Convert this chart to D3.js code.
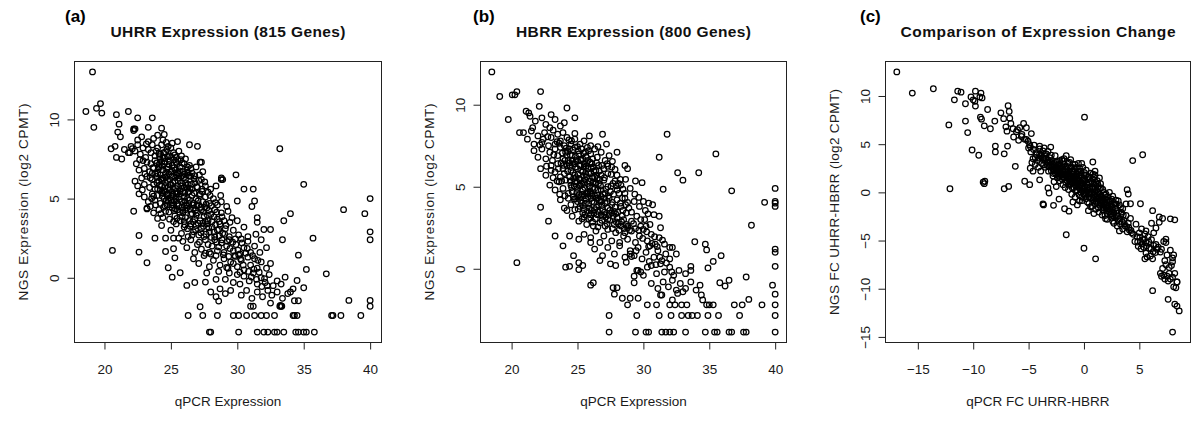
<!DOCTYPE html>
<html><head><meta charset="utf-8">
<script src="https://cdn.jsdelivr.net/npm/d3@7"></script>
<style>body{margin:0;background:#fff}svg{display:block}</style>
</head><body>
<svg id="chart" width="1200" height="426"></svg>
<script>
const panelLetters = ["(a)", "(b)", "(c)"];
const panelTitles = ["UHRR Expression (815 Genes)", "HBRR Expression (800 Genes)", "Comparison of Expression Change"];
const xAxisTitles = ["qPCR Expression", "qPCR Expression", "qPCR FC UHRR-HBRR"];
const yAxisTitles = ["NGS Expression (log2 CPMT)", "NGS Expression (log2 CPMT)", "NGS FC UHRR-HBRR (log2 CPMT)"];
const xTicksAB = [20, 25, 30, 35, 40];
const yTicksAB = [0, 5, 10];
const xTicksC = [-15, -10, -5, 0, 5];
const yTicksC = [-15, -10, -5, 0, 5, 10];

// Panel (a): UHRR, [qPCR, NGS]
const uhrrPoints = [
[19.1,13.0],[18.6,10.5],[19.2,9.5],[19.4,10.7],[19.7,11.0],[19.8,10.4],[20.9,10.3],[21.1,9.7],[21.0,9.2],[21.2,8.9],
[21.8,10.5],[22.5,10.1],[23.6,10.1],[23.3,9.5],[24.3,9.45],[24.5,9.05],[20.5,8.15],[20.8,8.3],[20.9,7.6],[21.3,7.5],
[21.9,7.9],[22.1,8.15],[22.2,9.4],[25.5,8.6],[26.4,8.4],[27.0,8.3],[27.3,7.3],[28.8,6.2],[29.9,6.5],[30.5,5.6],
[31.2,5.6],[31.3,4.85],[31.1,4.5],[30.0,4.85],[33.2,8.15],[35.0,5.9],[40.0,5.0],[39.6,4.05],[38.0,4.3],[34.0,4.05],
[33.5,3.6],[40.0,2.9],[40.0,2.4],[35.7,2.5],[33.4,2.4],[31.5,3.8],[31.5,3.5],[32.0,3.05],[32.5,3.05],[31.4,2.75],
[31.8,2.4],[32.2,1.9],[34.6,1.43],[35.2,0.53],[36.7,0.25],[33.6,0.04],[34.5,-0.17],[35.0,-0.63],[34.0,-0.9],[38.4,-1.43],
[40.0,-1.43],[40.0,-1.8],
[26.3,-2.38],[27.4,-2.38],[28.5,-2.38],[29.7,-2.38],[30.1,-2.38],[30.7,-2.38],[31.3,-2.38],[31.8,-2.38],[32.2,-2.38],[32.8,-2.38],
[34.2,-2.38],[34.3,-2.38],[34.5,-2.38],[37.1,-2.38],[37.2,-2.38],[37.8,-2.38],[39.3,-2.38],
[27.9,-3.43],[28.0,-3.43],[30.1,-3.43],[31.5,-3.43],[32.0,-3.43],[32.3,-3.43],[32.8,-3.43],[33.0,-3.43],[33.5,-3.43],[34.4,-3.43],
[34.6,-3.43],[35.0,-3.43],[35.2,-3.43],[35.8,-3.43],
[27.2,-1.83],[28.6,-1.47],[26.8,-0.3],[27.6,-0.27],[26.2,-0.48],[25.1,0.04],[24.8,0.63],[25.7,0.32],[23.2,0.95],[20.6,1.73],
[22.6,1.62],[22.6,2.67],[23.8,2.5],[22.2,4.2],[23.2,4.35],[24.6,1.66],[25.2,1.83],[25.3,1.26],
[22.2,9.3],[22.3,9.4],[22.5,8.7],[22.8,8.9],[23.3,8.6],[23.7,8.8],[24.0,9.0],[24.4,8.7],[24.8,8.3],[25.1,8.5],
[21.5,8.1],[21.8,7.9],[22.0,8.3],[22.3,8.0],[22.5,8.4],[22.7,7.8],[22.9,8.2],[23.1,7.6],[23.3,8.1],[23.5,7.9],
[23.6,8.4],[23.8,7.7],[24.0,8.2],[24.2,7.8],[24.3,8.4],[24.5,7.6],[24.7,8.1],[24.9,7.7],[25.0,8.2],[25.2,7.9],
[25.4,7.6],[25.6,8.0],[25.8,7.7],[26.1,7.5],[24.6,7.95],[23.9,8.0],[24.4,7.55],
[22.4,7.2],[22.6,6.8],[22.9,7.4],[23.0,6.9],[23.2,7.3],[23.4,6.7],[23.5,7.2],[23.7,6.9],[23.8,7.4],[24.0,6.6],
[24.1,7.1],[24.2,7.5],[24.4,6.8],[24.5,7.2],[24.6,6.6],[24.8,7.0],[24.9,7.4],[25.0,6.7],[25.1,7.1],[25.3,6.8],
[25.4,7.3],[25.5,6.6],[25.7,7.0],[25.9,6.7],[26.0,7.2],[26.2,6.8],[26.4,7.1],[26.6,6.6],[26.9,7.0],[27.2,7.3],
[27.4,6.7],[24.3,7.3],[25.2,7.45],[24.7,6.85],[23.6,6.6],
[22.3,6.1],[22.5,5.8],[22.8,6.3],[23.0,5.9],[23.2,6.4],[23.4,5.7],[23.6,6.2],[23.7,5.9],[23.9,6.4],[24.0,5.6],
[24.1,6.1],[24.3,5.8],[24.4,6.3],[24.5,5.5],[24.6,6.0],[24.7,6.4],[24.8,5.7],[24.9,6.2],[25.0,5.9],[25.1,6.4],
[25.2,5.6],[25.3,6.1],[25.5,5.8],[25.6,6.3],[25.7,5.5],[25.8,6.0],[26.0,5.7],[26.1,6.2],[26.3,5.9],[26.5,6.4],
[26.6,5.6],[26.8,6.0],[27.0,5.7],[27.3,6.2],[27.6,5.8],[28.0,5.6],[28.4,5.8],[28.8,6.3],[28.9,6.2],[24.2,6.5],
[25.4,6.5],[24.9,5.55],[23.8,5.6],
[22.6,5.3],[23.0,5.1],[23.3,4.8],[23.6,5.3],[23.8,4.9],[24.0,5.2],[24.2,4.7],[24.3,5.4],[24.5,5.0],[24.7,4.6],
[24.8,5.3],[25.0,4.9],[25.1,5.4],[25.2,4.6],[25.4,5.1],[25.5,4.7],[25.7,5.3],[25.8,4.8],[26.0,5.1],[26.1,4.6],
[26.3,5.4],[26.4,4.9],[26.6,5.2],[26.7,4.7],[26.9,5.0],[27.1,4.6],[27.2,5.3],[27.4,4.8],[27.6,5.1],[27.9,4.7],
[28.2,5.0],[28.5,4.6],[28.8,4.8],[29.2,4.5],[25.9,5.45],[24.6,5.45],[26.2,4.55],[27.8,5.4],
[23.2,4.4],[23.7,4.1],[24.1,4.3],[24.4,3.8],[24.6,4.2],[24.9,3.7],[25.1,4.4],[25.3,3.9],[25.5,4.3],[25.7,3.6],
[25.9,4.1],[26.1,3.8],[26.2,4.4],[26.4,3.6],[26.5,4.0],[26.7,4.4],[26.8,3.7],[27.0,4.1],[27.2,3.6],[27.3,4.3],
[27.5,3.9],[27.7,4.4],[27.8,3.6],[28.0,4.0],[28.3,4.3],[28.5,3.7],[28.8,4.1],[29.0,3.6],[29.3,4.2],[29.6,3.8],
[30.0,3.6],[26.0,3.55],[25.2,3.55],[27.6,3.55],[24.0,3.75],
[24.3,3.3],[25.0,3.0],[25.4,3.4],[25.8,2.8],[26.0,3.2],[26.3,2.6],[26.5,3.4],[26.7,2.9],[26.9,3.3],[27.1,2.7],
[27.3,3.1],[27.5,2.6],[27.7,3.4],[27.9,2.9],[28.1,3.2],[28.3,2.6],[28.5,3.0],[28.7,3.4],[28.9,2.8],[29.1,3.1],
[29.4,2.6],[29.7,3.0],[30.1,2.7],[30.5,3.2],[30.8,2.6],[24.6,2.5],[25.2,2.5],[25.6,2.5],
[25.9,2.3],[26.2,1.9],[26.5,2.4],[26.8,1.6],[27.0,2.1],[27.3,1.8],[27.6,2.4],[27.9,1.6],[28.1,2.0],[28.3,2.4],
[28.5,1.7],[28.8,2.2],[29.0,1.6],[29.2,2.0],[29.4,2.4],[29.7,1.7],[29.9,2.1],[30.2,1.5],[30.5,1.9],[30.8,2.3],
[31.0,1.6],[31.3,2.0],[31.7,1.6],[28.0,1.5],[27.6,1.55],[30.3,2.45],
[26.7,1.2],[27.1,0.9],[27.5,1.4],[27.9,0.7],[28.2,1.1],[28.4,1.4],[28.7,0.8],[29.0,1.2],[29.3,0.6],[29.5,1.0],
[29.8,1.4],[30.0,0.7],[30.3,1.1],[30.5,0.5],[30.8,1.3],[31.0,0.8],[31.3,1.2],[31.5,0.6],[31.8,1.0],[32.2,0.6],
[32.5,0.9],[29.2,0.65],[30.1,1.45],
[27.7,0.3],[28.6,0.4],[29.1,-0.1],[29.4,0.3],[29.7,-0.3],[30.0,0.2],[30.2,-0.4],[30.5,0.1],[30.9,-0.2],[31.2,0.3],
[31.5,-0.4],[31.8,0.0],[32.1,-0.3],[32.4,0.2],[32.7,-0.5],[33.0,-0.2],[33.3,-0.4],[28.4,-0.1],
[28.0,-0.9],[28.4,-1.2],[28.7,-0.7],[29.1,-1.0],[29.5,-0.8],[30.3,-1.1],[30.7,-0.8],[31.1,-1.3],[31.5,-0.9],[31.9,-1.2],
[32.3,-0.8],[32.6,-1.1],[33.0,-0.9],[33.4,-1.3],[33.8,-1.0],[34.2,-0.7],[31.2,-1.8],[31.0,-1.8],[32.5,-1.6],[34.3,-1.45],
[34.6,-1.45],[33.2,-1.8],[33.3,-1.8],[33.35,-1.8],[33.25,-1.75],
[24.15,7.65],[24.55,7.35],[24.85,7.15],[25.05,7.6],[25.25,6.95],[25.45,7.15],[25.65,6.75],[25.85,7.25],[26.05,6.55],[26.25,7.0],
[24.35,6.15],[24.55,5.75],[24.75,6.15],[24.95,5.85],[25.15,6.0],[25.35,5.65],[25.55,6.1],[25.75,5.8],[25.95,6.3],[26.15,5.85],
[26.35,5.45],[26.55,5.9],[26.75,5.35],[26.95,5.75],[27.15,5.2],[24.05,6.85],[24.25,6.25],[23.85,6.55],[23.65,6.95],[23.45,6.3],
[25.05,5.15],[25.25,4.85],[25.45,5.3],[25.65,4.95],[25.85,4.45],[26.05,4.85],[26.25,5.0],[26.45,4.35],[26.65,4.6],[26.85,4.25],
[27.05,4.85],[27.25,4.45],[27.45,4.15],[27.65,4.65],[27.85,4.25],[28.05,4.55],[28.25,3.85],[28.45,4.15],[28.65,3.55],[28.85,3.85],
[24.45,4.45],[24.65,4.85],[24.85,4.15],[25.05,4.6],[25.25,4.25],[25.45,3.75],[25.65,4.15],[25.85,3.85],[26.05,3.35],[26.25,3.1],
[26.45,3.25],[26.65,3.55],[26.85,3.05],[27.05,3.45],[27.25,2.85],[27.45,3.25],[27.65,2.75],[27.85,3.15],[28.05,2.55],[28.25,2.9],
[28.45,2.25],[28.65,2.65],[28.85,2.4],[29.05,2.75],[29.25,2.3],[29.45,1.85],[29.65,2.25],[29.85,1.35],[30.05,1.75],[30.25,1.2],
[30.45,0.8],[30.65,1.55],[30.85,0.4],[31.05,0.05],[31.25,0.55],[31.45,-0.1],[31.65,0.35],[31.85,-0.55],[32.05,-0.05],[32.25,-0.5],
[24.65,8.55],[23.15,8.45],[22.65,7.45],[23.95,7.25],[24.75,7.65],[25.55,7.4],[26.35,6.45],[26.75,6.25],[27.15,6.5],[27.55,6.05],
[27.95,5.2],[28.35,4.75],[28.75,5.2],[29.15,3.3],[29.45,3.5],[29.85,2.45],[30.35,2.2],[30.75,1.85],[31.15,1.4],[31.55,1.1],
[23.05,6.55],[22.85,5.55],[23.55,5.0],[23.45,4.5],[24.25,4.05],[23.85,4.6],[24.35,5.15],[26.95,4.55],[27.35,5.6],[26.45,5.65],
[24.1,7.85],[24.35,7.05],[24.6,6.35],[24.85,6.55],[25.1,6.75],[25.35,6.35],[25.6,6.55],[25.85,6.45],[26.1,6.0],[26.3,6.6],
[24.2,5.55],[24.4,5.35],[24.7,5.25],[24.9,5.05],[25.15,5.25],[25.4,5.45],[25.6,5.1],[25.8,5.65],[26.05,5.35],[26.25,5.65],
[24.55,4.55],[24.8,4.85],[25.1,4.75],[25.35,4.35],[25.6,4.55],[25.9,4.25],[26.1,4.3],[26.35,4.7],[26.6,4.05],[26.9,3.95],
[24.1,7.0],[23.95,6.0],[24.15,5.85],[23.7,5.15],[24.45,7.9],[25.3,7.75],[25.75,7.45],[26.5,6.9],[26.8,6.45],[27.1,6.15],
[27.35,5.45],[27.55,4.45],[27.75,3.95],[28.1,3.55],[28.35,3.35],[28.6,3.05],[27.4,3.45],[26.6,2.7],[27.15,2.25],[27.8,2.1],
[28.6,1.95],[29.35,1.35],[28.95,1.45],[29.7,0.9],[30.2,0.35]
];

// Panel (b): HBRR, [qPCR, NGS]
const hbrrPoints = [
[18.5,12.0],[19.1,10.5],[20.05,10.6],[20.25,10.6],[20.4,10.8],[19.75,9.1],[22.2,10.8],[22.1,9.9],[24.2,9.8],[24.8,9.2],
[20.6,8.3],[21.1,9.6],[21.3,9.5],[26.9,8.2],[25.9,8.1],[24.8,8.25],[27.2,7.6],[28.0,7.1],
[31.8,8.2],[31.2,6.8],[32.6,5.85],[33.0,5.4],[34.2,5.85],[35.5,7.0],[36.7,4.75],[31.5,4.85],[29.4,5.35],[29.9,5.25],
[40.0,4.9],[39.2,4.05],[40.0,4.1],[40.0,4.0],[40.0,3.8],[38.2,2.65],[33.9,1.65],[34.7,1.5],[34.8,1.15],[35.9,0.8],
[35.3,0.45],[34.9,0.05],[33.6,0.15],[40.0,1.2],[40.0,1.0],[40.0,0.15],[37.8,-0.5],[36.5,-0.7],[35.8,-0.85],[36.2,-1.05],
[39.8,-1.0],[40.0,-1.55],[38.0,-1.87],
[28.8,-2.2],[30.3,-2.2],[31.0,-2.2],[32.0,-2.2],[32.4,-2.2],[32.9,-2.2],[33.3,-2.2],[35.3,-2.2],[35.0,-2.2],[36.9,-2.2],
[37.5,-2.2],[39.0,-2.2],[40.0,-2.2],
[27.4,-2.85],[29.5,-2.85],[31.2,-2.85],[32.1,-2.85],[32.9,-2.85],[33.4,-2.85],[33.7,-2.85],[34.1,-2.85],[34.9,-2.85],[35.7,-2.85],
[37.3,-2.85],[40.0,-2.85],
[27.4,-3.86],[29.4,-3.86],[30.2,-3.86],[30.4,-3.86],[31.4,-3.86],[31.7,-3.86],[32.0,-3.86],[32.3,-3.86],[33.2,-3.86],[34.7,-3.86],
[35.4,-3.86],[35.6,-3.86],[36.5,-3.86],[36.7,-3.86],[37.6,-3.86],[37.8,-3.86],[40.0,-3.86],
[27.7,-1.15],[28.0,-1.15],[27.8,-1.55],[28.4,-1.8],[29.0,-1.8],[29.6,-1.8],
[22.2,3.75],[22.8,2.9],[23.3,2.0],[23.9,1.4],[20.4,0.37],[24.1,0.1],[24.4,0.15],[24.7,0.8],[25.1,0.37],[25.1,-0.05],
[25.4,0.2],[24.4,2.0],[25.1,1.8],[26.0,-1.0],[26.2,-0.85],[26.7,0.5],[27.5,0.3],[29.3,-0.45],[29.3,-0.85],[29.6,-0.1],
[21.4,9.3],[21.8,9.0],[22.3,9.2],[22.6,8.8],[23.0,9.4],[23.3,9.1],[23.7,8.7],[24.0,8.9],[21.6,8.6],[22.9,8.6],
[20.9,8.3],[21.2,7.9],[21.5,8.4],[21.7,7.6],[22.0,8.1],[22.3,7.7],[22.5,8.3],[22.8,7.5],[23.0,8.0],[23.3,7.6],
[23.5,8.2],[23.7,7.8],[24.0,7.5],[24.2,8.0],[24.5,7.6],[24.8,7.9],[25.2,7.6],[25.5,7.8],[26.0,7.5],[22.4,7.9],[23.9,8.3],
[21.7,7.2],[22.0,6.8],[22.3,7.3],[22.6,6.7],[22.9,7.1],[23.1,6.6],[23.3,7.3],[23.5,6.9],[23.7,7.4],[23.9,6.7],
[24.1,7.1],[24.3,6.6],[24.4,7.3],[24.6,6.9],[24.8,7.4],[24.9,6.6],[25.1,7.0],[25.3,7.3],[25.4,6.7],[25.6,7.1],
[25.8,6.6],[26.0,7.0],[26.3,7.3],[26.5,6.8],[26.8,7.1],[27.1,6.6],[27.4,6.9],[24.2,6.9],[25.0,7.45],
[22.2,6.1],[22.6,5.7],[23.0,6.3],[23.3,5.9],[23.5,6.4],[23.7,5.6],[23.9,6.1],[24.0,5.8],[24.2,6.3],[24.4,5.6],
[24.5,6.0],[24.7,6.4],[24.8,5.7],[25.0,6.1],[25.1,5.5],[25.2,6.3],[25.4,5.9],[25.5,6.4],[25.7,5.6],[25.8,6.1],
[26.0,5.8],[26.1,6.4],[26.3,5.6],[26.4,6.0],[26.6,6.3],[26.8,5.7],[27.0,6.1],[27.3,5.8],[27.6,6.2],[28.0,5.7],
[28.6,6.3],[28.8,6.1],[24.9,5.55],[26.5,5.5],
[22.9,5.1],[23.3,4.8],[23.6,5.3],[23.9,4.9],[24.1,5.4],[24.3,4.6],[24.5,5.1],[24.6,4.7],[24.8,5.3],[25.0,4.9],
[25.1,4.5],[25.3,5.2],[25.4,4.8],[25.6,5.4],[25.7,4.6],[25.9,5.0],[26.0,4.6],[26.2,5.3],[26.3,4.9],[26.5,4.5],
[26.6,5.2],[26.8,4.8],[27.0,5.4],[27.1,4.6],[27.3,5.0],[27.5,4.7],[27.7,5.2],[28.0,4.8],[28.3,5.1],[28.6,4.6],
[29.0,4.9],[25.2,5.45],[26.1,4.55],
[23.7,4.2],[24.0,3.7],[24.3,4.3],[24.5,3.9],[24.7,4.4],[24.8,3.6],[25.0,4.1],[25.2,3.8],[25.3,4.4],[25.5,3.6],
[25.6,4.0],[25.8,4.4],[25.9,3.7],[26.1,4.1],[26.3,3.6],[26.4,4.3],[26.6,3.9],[26.8,4.4],[26.9,3.6],[27.1,4.0],
[27.3,3.7],[27.4,4.3],[27.6,3.9],[27.8,3.5],[28.0,4.2],[28.3,3.8],[28.6,4.3],[28.9,3.7],[29.3,4.1],[29.7,3.8],
[30.0,4.1],[30.4,4.0],[30.7,3.9],[24.2,3.55],
[24.6,3.2],[25.1,2.9],[25.4,3.4],[25.7,2.7],[26.0,3.1],[26.2,2.6],[26.5,3.3],[26.7,2.8],[26.9,3.2],[27.1,2.6],
[27.3,3.0],[27.6,3.4],[27.8,2.7],[28.0,3.1],[28.3,2.6],[28.5,3.0],[28.7,3.4],[28.8,2.5],[29.1,2.9],[29.5,3.2],
[29.8,2.6],[30.1,3.0],[30.5,2.7],[30.8,3.3],[31.2,3.2],[31.3,2.5],[28.7,2.7],[28.8,2.6],
[25.5,2.1],[26.0,1.9],[26.4,2.3],[26.7,1.6],[27.0,2.0],[27.3,2.4],[27.6,1.7],[27.9,2.2],[28.2,1.6],[28.5,2.0],
[28.8,1.8],[29.1,2.3],[29.4,1.6],[29.7,2.0],[30.0,2.4],[30.3,1.7],[30.6,2.1],[30.9,1.5],[31.2,1.9],[31.6,1.5],
[32.0,1.3],[32.2,1.3],[26.0,1.6],
[26.3,1.2],[26.9,0.8],[27.3,1.3],[27.8,0.9],[28.2,1.4],[28.6,0.7],[29.0,1.1],[29.3,0.8],[29.6,1.3],[29.9,0.6],
[30.2,1.0],[30.5,1.4],[30.8,0.7],[31.1,1.1],[31.4,0.5],[31.7,0.9],[32.0,0.6],[32.5,0.9],[29.0,0.9],[29.1,0.75],[30.4,1.35],
[27.9,0.2],[28.7,0.4],[29.5,-0.1],[29.8,-0.2],[30.3,0.1],[30.6,0.2],[31.0,-0.3],[31.3,0.3],[31.6,-0.2],[32.0,0.1],
[32.3,-0.4],[32.7,-0.1],[33.2,-0.3],[33.6,-0.1],[30.0,-0.4],
[30.6,-0.9],[31.1,-1.2],[31.5,-0.8],[31.9,-1.1],[32.2,-0.7],[32.5,-1.3],[32.8,-0.9],[33.2,-1.2],[33.6,-0.8],[34.0,-1.3],
[34.3,-1.0],[31.3,-1.6],[31.4,-1.6],[32.6,-1.5],[33.0,-1.4],[34.4,-1.6],[34.5,-1.9],[34.8,-2.2],[32.2,-1.9],
[24.15,7.35],[24.45,6.95],[24.65,7.25],[24.85,6.85],[25.05,7.2],[25.25,6.65],[25.45,7.05],[25.65,6.85],[25.85,7.2],[26.15,6.7],
[24.25,5.95],[24.45,6.25],[24.65,5.85],[24.85,6.2],[25.05,5.75],[25.25,6.0],[25.45,5.65],[25.65,6.25],[25.85,5.85],[26.05,6.15],
[26.25,5.95],[26.45,5.7],[26.65,5.95],[26.85,6.3],[27.05,5.55],[27.25,6.4],[23.75,6.45],[23.95,6.3],[23.55,6.1],[24.05,6.6],
[24.55,4.95],[24.75,5.05],[24.95,4.65],[25.15,5.05],[25.35,4.55],[25.55,4.95],[25.75,5.2],[25.95,4.75],[26.15,4.95],[26.35,5.15],
[26.55,4.8],[26.75,5.05],[26.95,4.55],[27.15,4.85],[27.35,4.45],[27.55,5.05],[27.75,4.55],[27.95,5.05],[28.15,4.6],[28.45,4.85],
[24.85,4.25],[25.05,3.65],[25.25,4.15],[25.45,3.85],[25.65,4.25],[25.85,3.95],[26.05,3.55],[26.25,4.05],[26.45,3.75],[26.65,4.15],
[26.85,3.85],[27.05,3.45],[27.25,4.1],[27.45,3.55],[27.65,4.05],[27.85,3.75],[28.05,3.45],[28.25,4.0],[28.45,3.55],[28.65,3.9],
[25.35,3.05],[25.55,3.3],[25.85,3.05],[26.15,2.85],[26.35,3.05],[26.55,2.55],[26.85,2.95],[27.05,3.3],[27.25,2.75],[27.45,2.95],
[27.65,2.45],[27.95,2.85],[28.15,2.35],[28.35,2.85],[28.55,2.45],[28.95,2.35],[29.25,2.75],[29.65,2.35],[29.95,1.85],[30.25,2.25],
[30.65,1.55],[30.85,1.95],[31.05,1.35],[31.45,1.75],[30.45,0.45],[30.95,0.25],[31.25,0.7],[31.75,0.35],[32.15,-0.2],[29.45,1.1],
[23.15,8.45],[22.75,8.05],[22.15,7.55],[23.45,7.75],[24.35,7.85],[25.75,7.4],[26.55,7.45],[27.65,6.55],[27.85,6.05],[28.25,5.45],
[28.65,5.45],[29.35,4.55],[29.65,4.35],[30.15,3.55],[30.35,3.35],[22.65,6.25],[23.15,5.55],[23.45,5.35],[23.65,4.55],[24.05,4.45],
[24.35,6.45],[24.6,6.6],[24.8,6.4],[25.0,6.55],[25.25,6.6],[25.5,6.2],[25.7,6.45],[25.95,6.5],[26.2,6.2],[26.45,6.45],
[24.45,5.35],[24.7,5.5],[24.95,5.3],[25.2,5.1],[25.45,5.2],[25.65,5.75],[25.9,5.35],[26.15,5.55],[26.4,5.25],[26.7,5.45],
[24.75,4.25],[25.0,4.4],[25.3,4.0],[25.55,4.45],[25.8,4.6],[26.05,4.3],[26.3,4.45],[26.55,4.3],[26.8,4.1],[27.05,4.3],
[25.5,3.15],[25.75,3.5],[26.0,3.3],[26.25,3.4],[26.55,3.5],[26.8,3.3],[27.15,3.15],[27.4,3.3],[27.7,3.2],[27.9,3.35],
[28.1,2.75],[28.4,3.25],[28.6,2.2],[24.25,7.15],[24.55,7.8],[23.85,7.05],[23.6,7.65],[23.2,6.95],[23.0,6.0],[23.8,5.35],
[27.3,6.25],[27.55,5.75],[27.85,5.35],[28.1,5.2],[28.4,4.3],[28.8,4.05],[29.1,3.45],[29.4,2.45],[29.8,3.0],[30.2,2.6]
];

// Panel (c): fold change, [qPCR FC, NGS FC]
const changePoints = [
[-16.9,12.5],[-15.5,10.3],[-13.6,10.75],[-12.2,7.0],[-12.1,0.38],[-11.7,9.6],[-11.4,10.5],[-11.1,10.4],[-10.7,9.2],[-10.7,7.4],
[-10.5,6.2],[-10.1,4.4],[-9.5,3.85],[-10.2,9.9],[-9.8,10.5],[-9.85,9.45],[-9.8,8.95],[-9.4,9.9],[-9.2,9.8],[-9.3,10.3],
[-10.0,9.6],[-9.35,7.8],[-9.25,7.6],[-9.0,6.9],[-8.7,8.6],[-8.45,6.6],[-8.05,7.4],[-8.0,4.8],[-8.0,4.2],[-7.2,4.0],
[-6.9,4.8],[-9.1,1.05],[-9.0,0.9],[-8.95,1.15],[-7.2,0.38],[-6.8,0.62],[-7.5,8.25],[-7.25,7.65],[-6.85,9.0],[-6.75,8.4],
[-6.7,7.7],[-7.05,6.8],[-6.6,7.15],[-6.95,6.35],[-6.4,6.6],[-6.1,6.3],[-5.8,6.7],[-6.35,5.75],[-6.2,2.7],[-5.45,7.15],
[-5.2,6.7],[-4.75,6.1],[-5.65,5.8],[-5.35,5.5],[-5.05,5.3],[-4.9,4.95],[-5.9,5.4],[-6.0,6.5],[-5.6,6.0],[-5.2,5.5],
[-5.35,1.15],[-4.9,0.8],[-4.85,2.5],[-4.6,2.2],[-4.0,1.3],[-3.25,0.45],[-3.15,-0.07],[-3.7,-1.2],[-3.65,-1.3],[-2.75,-1.35],
[-2.25,-0.7],[-1.75,-1.7],[-1.35,-1.95],[-1.6,-4.4],[0.0,-5.8],[1.05,-6.9],[0.05,7.8],[0.8,3.15],[4.4,3.3],[5.3,3.9],
[3.9,0.28],[4.0,-0.17],[4.2,-1.18],[5.1,-1.18],[6.2,-1.9],[6.2,-10.2],[7.6,-11.1],[8.0,-14.5],[8.2,-11.6],[8.4,-11.8],
[8.6,-12.3],[8.4,-9.3],[8.1,-6.5],[8.2,-2.85],[7.8,-2.75],[7.1,-2.7],[6.8,-2.55],[6.8,-3.1],[7.4,-4.85],
[-5.0,4.6],[-4.8,4.2],[-4.6,3.5],[-4.5,4.9],[-4.3,3.9],[-4.2,3.3],[-4.0,4.5],[-3.9,3.7],[-3.8,3.0],[-3.7,4.3],
[-3.6,3.4],[-3.5,2.6],[-3.4,4.0],[-3.3,3.1],[-3.2,2.2],[-3.1,3.6],[-3.0,4.7],[-3.0,2.8],[-4.7,3.1],[-4.4,2.9],
[-3.9,2.2],[-4.1,2.6],[-4.0,4.8],[-3.6,4.6],
[-2.9,3.3],[-2.8,2.4],[-2.8,1.7],[-2.7,3.0],[-2.6,2.0],[-2.6,3.8],[-2.5,2.6],[-2.4,1.5],[-2.4,3.2],[-2.3,2.2],
[-2.2,2.9],[-2.2,1.2],[-2.1,2.5],[-2.0,1.8],[-2.0,3.4],[-1.9,2.2],[-1.9,0.8],[-1.8,2.9],[-1.8,1.5],[-1.7,2.4],
[-1.7,0.5],[-1.6,1.9],[-1.6,3.8],[-1.5,1.2],[-1.5,2.7],[-2.7,1.1],[-2.5,0.6],
[-1.4,2.2],[-1.4,0.3],[-1.3,1.6],[-1.3,3.1],[-1.2,0.9],[-1.2,2.5],[-1.1,1.9],[-1.1,-0.2],[-1.0,1.3],[-1.0,2.9],
[-0.9,0.5],[-0.9,2.2],[-0.8,1.7],[-0.8,-0.5],[-0.7,1.0],[-0.7,2.6],[-0.6,0.2],[-0.6,1.9],[-0.5,1.3],[-0.5,3.0],
[-0.4,0.7],[-0.4,-0.9],[-0.3,2.2],[-0.3,0.0],[-0.2,1.5],[-0.2,-0.5],[-0.1,0.9],[-0.1,2.6],[0.0,0.3],[0.0,1.8],
[-1.0,-1.0],[-0.6,-1.3],[-0.2,3.0],
[0.1,-0.3],[0.1,1.2],[0.2,2.3],[0.3,0.5],[0.3,-1.0],[0.4,1.6],[0.5,-0.1],[0.5,1.0],[0.6,-1.5],[0.6,2.0],
[0.7,0.4],[0.8,-0.6],[0.8,1.4],[0.9,-0.2],[0.9,0.9],[1.0,-1.2],[1.0,1.8],[1.1,0.2],[1.2,-0.7],[1.2,1.2],
[1.3,-1.6],[1.3,0.6],[1.4,-0.2],[1.5,-1.1],[1.5,0.9],[0.4,-1.9],[0.9,-2.2],[1.4,1.5],[1.0,2.2],
[1.6,-0.5],[1.7,-1.8],[1.7,0.3],[1.8,-1.2],[1.9,-2.4],[1.9,-0.3],[2.0,-1.6],[2.1,-0.8],[2.1,-2.8],[2.2,-1.3],
[2.3,0.0],[2.3,-2.0],[2.4,-0.9],[2.5,-2.6],[2.5,-1.5],[2.6,-0.4],[2.7,-2.1],[2.7,-3.2],[2.8,-1.2],[2.9,-2.6],
[2.9,-0.8],[3.0,-1.9],[3.0,-3.5],[2.0,-0.2],[2.6,-3.0],
[3.1,-2.8],[3.2,-1.3],[3.3,-3.3],[3.4,-2.2],[3.5,-3.8],[3.5,-1.7],[3.6,-2.9],[3.7,-3.5],[3.8,-2.4],[3.9,-4.1],
[4.0,-3.2],[4.1,-3.9],[4.2,-2.7],[4.3,-4.2],[3.2,-4.0],[3.1,-0.9],[3.8,-1.2],
[4.6,-5.1],[4.8,-4.6],[4.9,-5.6],[5.0,-4.2],[5.1,-5.1],[5.2,-3.8],[5.3,-4.9],[5.4,-5.7],[5.5,-4.3],[5.6,-6.3],
[5.6,-5.2],[5.7,-6.7],[5.8,-4.6],[5.9,-5.8],[6.0,-6.6],[6.1,-4.9],[6.2,-6.9],[5.5,-6.9],[6.3,-5.5],[6.5,-5.4],
[6.6,-5.9],[6.7,-5.7],[6.9,-6.2],[7.0,-5.9],[6.1,-3.2],[6.3,-4.2],[6.5,-3.7],[7.2,-5.1],[7.4,-5.2],
[6.9,-8.4],[7.0,-8.7],[7.1,-7.9],[7.2,-8.6],[7.3,-9.0],[7.4,-7.5],[7.5,-8.7],[7.6,-9.2],[7.7,-7.8],[7.7,-8.4],
[7.8,-9.0],[7.9,-7.6],[8.0,-8.8],[8.0,-7.2],[8.1,-9.8],[8.2,-8.4],[8.3,-9.9],[8.4,-9.3],[7.5,-6.5],[8.0,-6.8],
[7.8,-6.0],[7.3,-7.1],[4.7,-3.3],[5.6,-4.0],
[-3.45,3.55],[-3.25,3.35],[-3.05,3.15],[-2.85,2.95],[-2.65,2.75],[-2.55,3.15],[-2.45,2.35],[-2.35,2.85],[-2.25,2.55],[-2.15,1.95],
[-2.05,2.25],[-1.95,2.65],[-1.85,1.85],[-1.75,2.15],[-1.65,1.55],[-1.55,2.35],[-1.45,1.75],[-1.35,1.35],[-1.25,2.05],[-1.15,1.45],
[-1.05,0.95],[-0.95,1.65],[-0.85,1.25],[-0.75,0.65],[-0.65,1.45],[-0.55,0.85],[-0.45,1.75],[-0.35,0.45],[-0.25,1.05],[-0.15,0.15],
[-0.05,1.35],[0.05,0.65],[0.15,-0.05],[0.25,0.95],[0.35,0.25],[0.45,-0.45],[0.55,0.55],[0.65,-0.15],[0.75,0.95],[0.85,-0.85],
[0.95,0.35],[1.05,-0.45],[1.15,-1.05],[1.25,0.05],[1.35,-0.65],[1.45,-1.35],[1.55,-0.35],[1.65,-0.95],[1.75,-1.45],[1.85,-0.65],
[1.95,-1.15],[2.05,-1.95],[2.15,-1.45],[2.25,-0.95],[2.35,-1.75],[2.45,-2.25],[2.55,-1.15],[2.65,-1.85],[2.75,-2.55],[2.85,-1.65],
[-2.95,2.25],[-2.75,1.95],[-2.45,1.85],[-2.25,1.65],[-1.95,1.35],[-1.65,1.05],[-1.35,0.75],[-1.05,0.45],[-0.75,0.15],[-0.45,-0.25],
[-0.15,-0.85],[0.15,-0.65],[0.45,-1.15],[0.75,-1.45],[1.05,-1.75],[1.35,-2.05],[1.65,-2.35],[1.95,-2.75],[-1.85,3.25],[-1.45,3.05],
[-1.15,2.65],[-0.85,2.45],[-0.55,2.15],[-0.25,1.85],[0.05,2.05],[0.35,1.35],[0.65,1.15],[0.95,1.55],[1.25,0.85],[1.55,0.45],
[3.05,-2.45],[3.25,-2.75],[3.45,-3.05],[3.65,-3.25],[3.85,-3.55],[4.05,-3.65],[4.25,-3.95],[4.45,-4.35],[3.35,-2.05],[3.55,-2.35],
[-3.85,3.85],[-4.05,3.55],[-4.25,4.15],[-3.55,3.95],[-3.25,4.25],[-4.55,4.45],[-4.85,4.75],[-3.15,2.65],[-3.65,2.85],[-2.95,3.85],
[5.05,-4.65],[5.25,-5.35],[5.45,-4.85],[5.65,-5.55],[5.85,-5.15],[6.05,-5.85],[6.25,-6.15],[6.45,-6.25],[4.85,-5.15],[5.15,-5.85],
[-2.9,2.6],[-2.7,2.3],[-2.6,2.5],[-2.4,2.6],[-2.3,1.9],[-2.1,2.0],[-2.0,2.6],[-1.9,1.6],[-1.7,1.8],[-1.6,2.6],
[-1.5,1.5],[-1.4,1.9],[-1.3,1.1],[-1.2,1.6],[-1.1,2.2],[-1.0,1.0],[-0.9,1.4],[-0.8,0.8],[-0.7,1.7],[-0.6,1.1],
[-0.5,0.5],[-0.4,1.2],[-0.3,0.8],[-0.2,0.4],[-0.1,1.2],[0.0,-0.2],[0.1,0.5],[0.2,0.1],[0.3,0.8],[0.4,-0.2],
[0.5,0.4],[0.6,-0.6],[0.7,0.0],[0.8,0.5],[0.9,-0.5],[1.0,0.0],[1.1,-0.9],[1.2,-0.3],[1.3,-1.1],[1.4,-0.6],
[1.5,-0.8],[1.6,-1.3],[1.7,-0.8],[1.8,-1.6],[1.9,-1.0],[2.0,-1.3],[2.1,-2.2],[2.2,-1.7],[2.4,-2.0],[2.6,-2.4],
[-3.3,2.8],[-3.5,3.2],[-3.7,3.6],[-4.0,4.0],[-4.4,3.6],[-2.2,3.3],[-1.8,3.5],[-1.2,3.4],[-0.8,2.9],[-0.4,2.5],
[0.2,1.8],[0.5,1.6],[0.8,1.9],[1.1,1.0],[1.4,0.4],[1.8,0.0],[2.2,-0.5],[2.5,-0.7],[2.9,-1.2],[3.3,-1.6]
];

const panels = [
  {data: uhrrPoints, xTicks: xTicksAB, yTicks: yTicksAB, left: 74.5, right: 381.5, letterX: 65, yTitleLen: 197},
  {data: hbrrPoints, xTicks: xTicksAB, yTicks: yTicksAB, left: 480.5, right: 786.5, letterX: 473, yTitleLen: 197},
  {data: changePoints, xTicks: xTicksC, yTicks: yTicksC, left: 885.5, right: 1190.5, letterX: 860, yTitleLen: 226}
];
const plotTop = 61.5, plotBottom = 342.5;
const titleWidths = [235, 235, 275];

const svg = d3.select("#chart");
const font = "'Liberation Sans', Arial, sans-serif";

function padded(ext) { const d = (ext[1] - ext[0]) * 0.04; return [ext[0] - d, ext[1] + d]; }

panels.forEach((p, i) => {
  const x = d3.scaleLinear().domain(padded(d3.extent(p.data, d => d[0]))).range([p.left, p.right]);
  const y = d3.scaleLinear().domain(padded(d3.extent(p.data, d => d[1]))).range([plotBottom, plotTop]);
  const g = svg.append("g");

  g.append("g").selectAll("circle").data(p.data).join("circle")
    .attr("cx", d => x(d[0])).attr("cy", d => y(d[1])).attr("r", 2.8)
    .attr("fill", "none").attr("stroke", "#000").attr("stroke-width", 1.25);

  g.append("rect").attr("x", p.left).attr("y", plotTop)
    .attr("width", p.right - p.left).attr("height", plotBottom - plotTop)
    .attr("fill", "none").attr("stroke", "#222").attr("stroke-width", 1);

  const xa = g.append("g").attr("transform", `translate(0,${plotBottom})`)
    .call(d3.axisBottom(x).tickValues(p.xTicks).tickSize(7).tickPadding(14.5).tickFormat(d3.format("d")));
  xa.select(".domain").remove();
  xa.selectAll("line").attr("stroke", "#222");
  xa.selectAll("text").attr("font-family", font).attr("font-size", 13.5).attr("fill", "#1a1a1a");

  const ya = g.append("g").attr("transform", `translate(${p.left},0)`)
    .call(d3.axisLeft(y).tickValues(p.yTicks).tickSize(7).tickFormat(d3.format("d")));
  ya.select(".domain").remove();
  ya.selectAll("line").attr("stroke", "#222");
  ya.selectAll("text").attr("x", null).attr("dy", null)
    .attr("transform", "translate(-16,0) rotate(-90)")
    .attr("text-anchor", "middle")
    .attr("font-family", font).attr("font-size", 13.5).attr("fill", "#1a1a1a");

  const cx = (p.left + p.right) / 2;
  const cy = (plotTop + plotBottom) / 2;

  g.append("text").attr("x", p.letterX).attr("y", 22)
    .attr("font-family", font).attr("font-weight", "bold").attr("font-size", 17)
    .attr("fill", "#000").text(panelLetters[i]);

  g.append("text").attr("x", cx).attr("y", 37).attr("text-anchor", "middle")
    .attr("font-family", font).attr("font-weight", "bold").attr("font-size", 15.5)
    .attr("fill", "#111").attr("textLength", titleWidths[i]).attr("lengthAdjust", "spacing")
    .text(panelTitles[i]);

  g.append("text").attr("x", cx).attr("y", 406).attr("text-anchor", "middle")
    .attr("font-family", font).attr("font-size", 13.5).attr("fill", "#1a1a1a")
    .text(xAxisTitles[i]);

  g.append("text").attr("transform", `translate(${p.left - 46.5},${cy}) rotate(-90)`)
    .attr("text-anchor", "middle")
    .attr("font-family", font).attr("font-size", 13.5).attr("fill", "#1a1a1a")
    .attr("textLength", p.yTitleLen).attr("lengthAdjust", "spacing")
    .text(yAxisTitles[i]);
});
</script>
</body></html>
